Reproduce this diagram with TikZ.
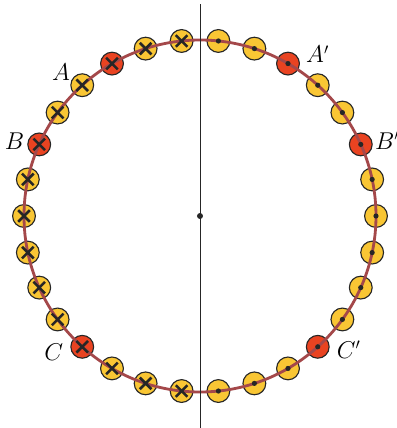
\documentclass[tikz,border=0pt]{standalone}
\usetikzlibrary{calc}

\definecolor{coilyellow}{RGB}{249,198,52}
\definecolor{coilred}{RGB}{233,67,33}
\definecolor{ringbrown}{RGB}{164,72,74}

\begin{document}
\begin{tikzpicture}[
  cond/.style={circle, draw=black!85, line width=0.8pt, fill=coilyellow,
               minimum size=5.7mm, inner sep=0pt},
  hot/.style={cond, fill=coilred},
  xmark/.style={circle, minimum size=5.7mm, inner sep=0pt,
                path picture={\draw[line width=1.8pt, black!85]
                  (path picture bounding box.center) +(-1.45mm,-1.45mm) -- +(1.45mm,1.45mm)
                  +(-1.45mm,1.45mm) -- +(1.45mm,-1.45mm);}},
  dmark/.style={circle, fill=black!85, minimum size=1.3mm, inner sep=0pt},
  ring/.style={line width=2pt, ringbrown},
  axis/.style={line width=0.7pt, black!85},
  lbl/.style={font=\fontsize{16}{18}\selectfont},
]
\useasboundingbox (-5,-5.3) rectangle (4.925,5.4);

% ------------------- conductors -------------------
\foreach \k in {0,...,14} {
  \def\sty{cond}
  \ifnum\k=2 \def\sty{hot}\fi
  \ifnum\k=5 \def\sty{hot}\fi
  \ifnum\k=11 \def\sty{hot}\fi
  \node[\sty] (l\k) at ({96+12*\k}:4.4) {};
  \node[\sty] (r\k) at ({84-12*\k}:4.4) {};
}

% ------------------- winding ring and axis -------------------
\node[dmark, minimum size=1.5mm] (O) at (0,0) {};
\draw[ring] (O.center) circle (4.4);

\coordinate (top) at (0,5.3);
\coordinate (bot) at (0,-5.3);
\draw[axis] (top) -- (bot);

% crosses (into the page) left, dots (out of the page) right
\foreach \k in {0,...,14} {
  \node[xmark] (x\k) at (l\k) {};
  \node[dmark] (d\k) at (r\k) {};
}

% ------------------- labels -------------------
\node[lbl] (labA) at (134:5.0) {$A$};
\node[lbl] (labB) at (158:5.0) {$B$};
\node[lbl] (labC) at (223:5.0) {$C$};
\node[lbl] (labA1) at (54:5.0) {$A'$};
\node[lbl] (labB1) at (22:5.05) {$B'$};
\node[lbl] (labC1) at (318:5.0) {$C'$};

\end{tikzpicture}
\end{document}
